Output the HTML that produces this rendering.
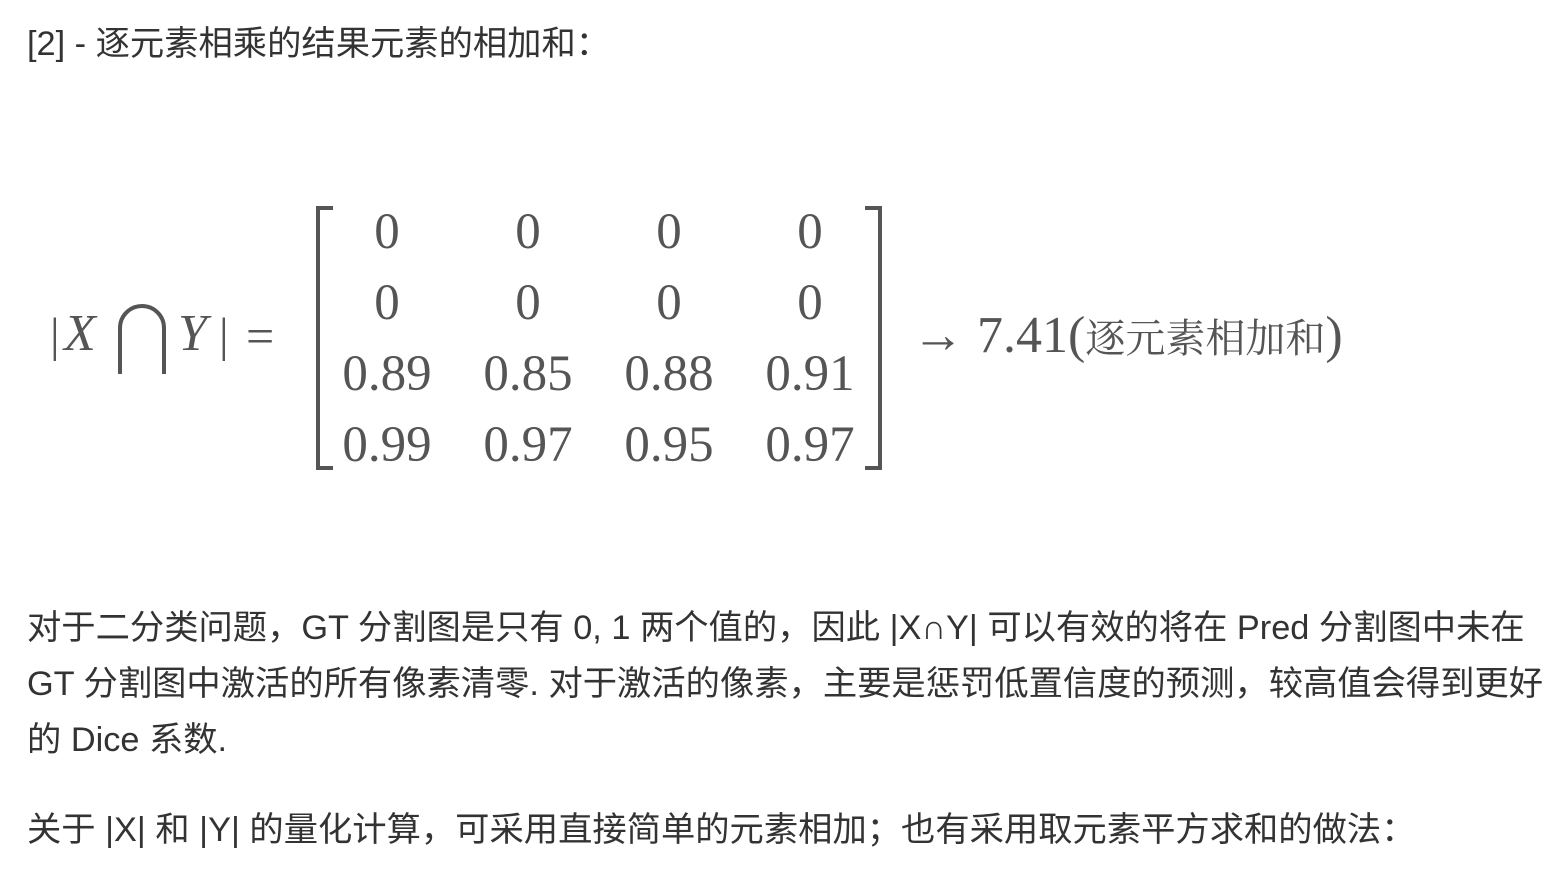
<!DOCTYPE html>
<html><head><meta charset="utf-8"><style>
body{margin:0;width:1563px;height:895px;background:#fff;position:relative;overflow:hidden;font-family:"Liberation Sans","Noto Sans CJK SC",sans-serif;color:#333}
.t{position:absolute;left:27px;font-size:34.3px;line-height:56px;white-space:nowrap}
.m{position:absolute;font-family:"Liberation Serif","Noto Serif CJK SC",serif;color:#555;font-size:52px;line-height:60px;white-space:nowrap}
.c{position:absolute;width:140px;text-align:center;font-family:"Liberation Serif",serif;color:#555;font-size:51px;line-height:60px}
</style></head><body>
<div class="t" style="top:16px">[2] - 逐元素相乘的结果元素的相加和：</div>
<div>
<div class="m" style="left:50px;top:306px;font-size:48px">|</div>
<div class="m" style="left:64px;top:304px"><i>X</i></div>
<div class="m" style="left:178px;top:304px"><i>Y</i></div>
<div class="m" style="left:219px;top:306px;font-size:48px">|</div>
<div class="m" style="left:246px;top:306px;font-size:50px">=</div>
</div>
<svg style="position:absolute;left:0;top:0" width="1563" height="895">
<path d="M120 374 V328 A22 22 0 0 1 164 328 V374" fill="none" stroke="#555" stroke-width="4"/>
<path d="M333 208 H318 V468 H333" fill="none" stroke="#555" stroke-width="4"/>
<path d="M865 208 H880 V468 H865" fill="none" stroke="#555" stroke-width="4"/>
</svg>
<div id="mat"></div>
<div class="m" style="left:912px;top:306px">→ 7.41(<span style="font-size:40px">逐元素相加和</span>)</div>
<div class="t" style="top:600px">对于二分类问题，GT 分割图是只有 0, 1 两个值的，因此 |X∩Y| 可以有效的将在 Pred 分割图中未在<br>GT 分割图中激活的所有像素清零. 对于激活的像素，主要是惩罚低置信度的预测，较高值会得到更好<br>的 Dice 系数.</div>
<div class="t" style="top:802px">关于 |X| 和 |Y| 的量化计算，可采用直接简单的元素相加；也有采用取元素平方求和的做法：</div>
<script>
const values=[["0","0","0","0"],["0","0","0","0"],["0.89","0.85","0.88","0.91"],["0.99","0.97","0.95","0.97"]];
const m=document.getElementById('mat');
values.forEach((row,i)=>row.forEach((v,j)=>{
const d=document.createElement('div');d.className='c';


d.style.left=(387+141*j-70)+'px';d.style.top=(202+71*i)+'px';d.textContent=v;m.appendChild(d);}));
</script>
</body></html>
